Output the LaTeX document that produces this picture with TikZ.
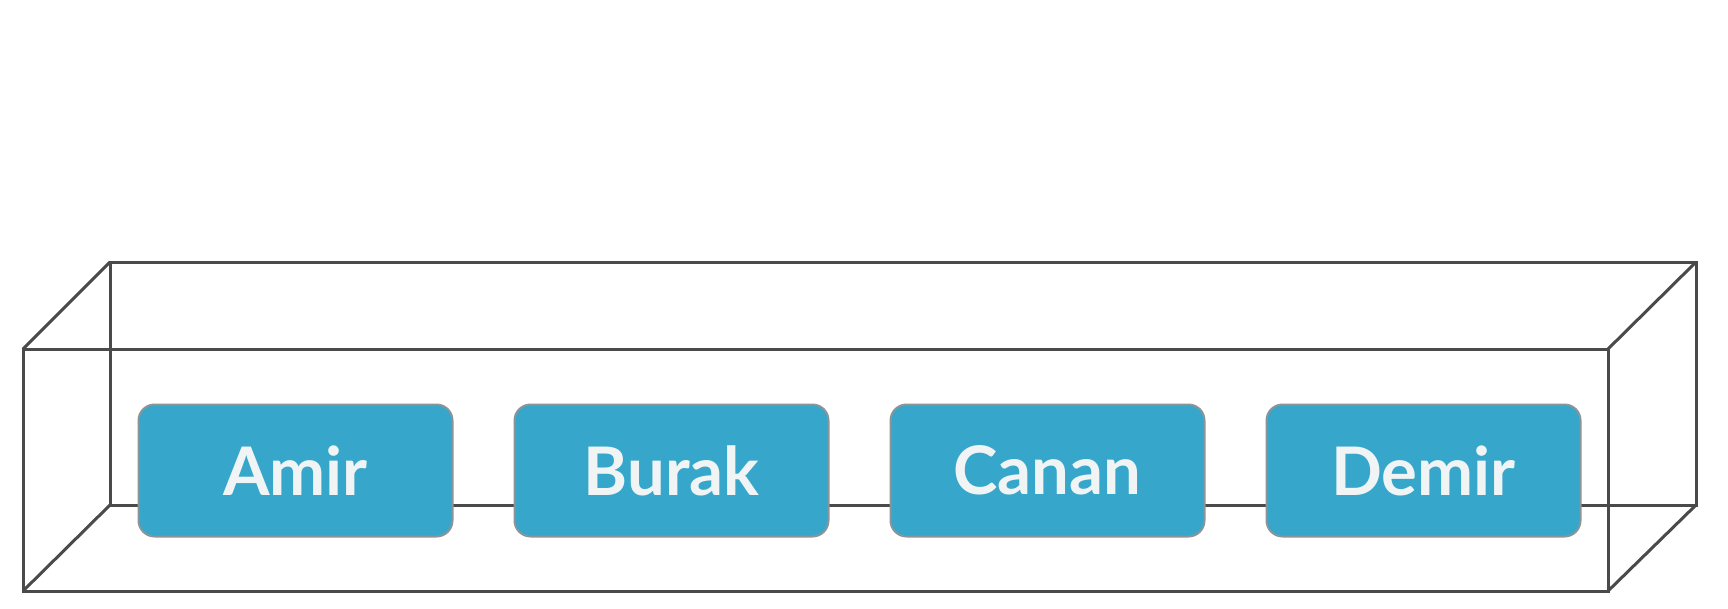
\documentclass[tikz,border=0pt]{standalone}
\usepackage{fontspec}
\setmainfont{Lato}[BoldFont={Lato Bold}]
\usetikzlibrary{positioning}

\definecolor{boxblue}{HTML}{36A7CB}
\definecolor{boxedge}{HTML}{8A9499}
\definecolor{frame}{HTML}{4A4A4A}
\definecolor{name}{HTML}{F0F4F5}

\tikzset{
  namebox/.style={draw=boxedge, line width=2pt, fill=boxblue, rounded corners=16pt,
    minimum width=314pt, minimum height=132pt, inner sep=0pt,
    text=name, font=\bfseries\fontsize{67}{72}\selectfont},
  edge/.style={draw=frame, line width=3pt}
}

\begin{document}
\begin{tikzpicture}[x=1pt, y=-1pt, node distance=376pt]
        \useasboundingbox (0,0) rectangle (1728,608);
        % corners of the case
        \coordinate (f1) at (23,349);
        \coordinate (f2) at (1608,349);
        \coordinate (f3) at (1608,591);
        \coordinate (f4) at (23,591);
        \coordinate (b1) at (110,262);
        \coordinate (b2) at (1696,262);
        \coordinate (b3) at (1696,505);
        \coordinate (b4) at (110,505);

        \draw[edge] (b1) -- (b2) -- (b3) -- (b4) -- cycle;
        \draw[edge] (f1) -- (b1);
        \draw[edge] (f2) -- (b2);
        \draw[edge] (f3) -- (b3);
        \draw[edge] (f4) -- (b4);

        \node [namebox] (1) at (295.5,470.5) {Amir};
        \node [namebox, right of=1] (2) {Burak};
        \node [namebox, right of=2] (3) {Canan};
        \node [namebox, right of=3] (4) {Demir};

        \draw[edge] (f1) -- (f2) -- (f3) -- (f4) -- cycle;
      \end{tikzpicture}
\end{document}
